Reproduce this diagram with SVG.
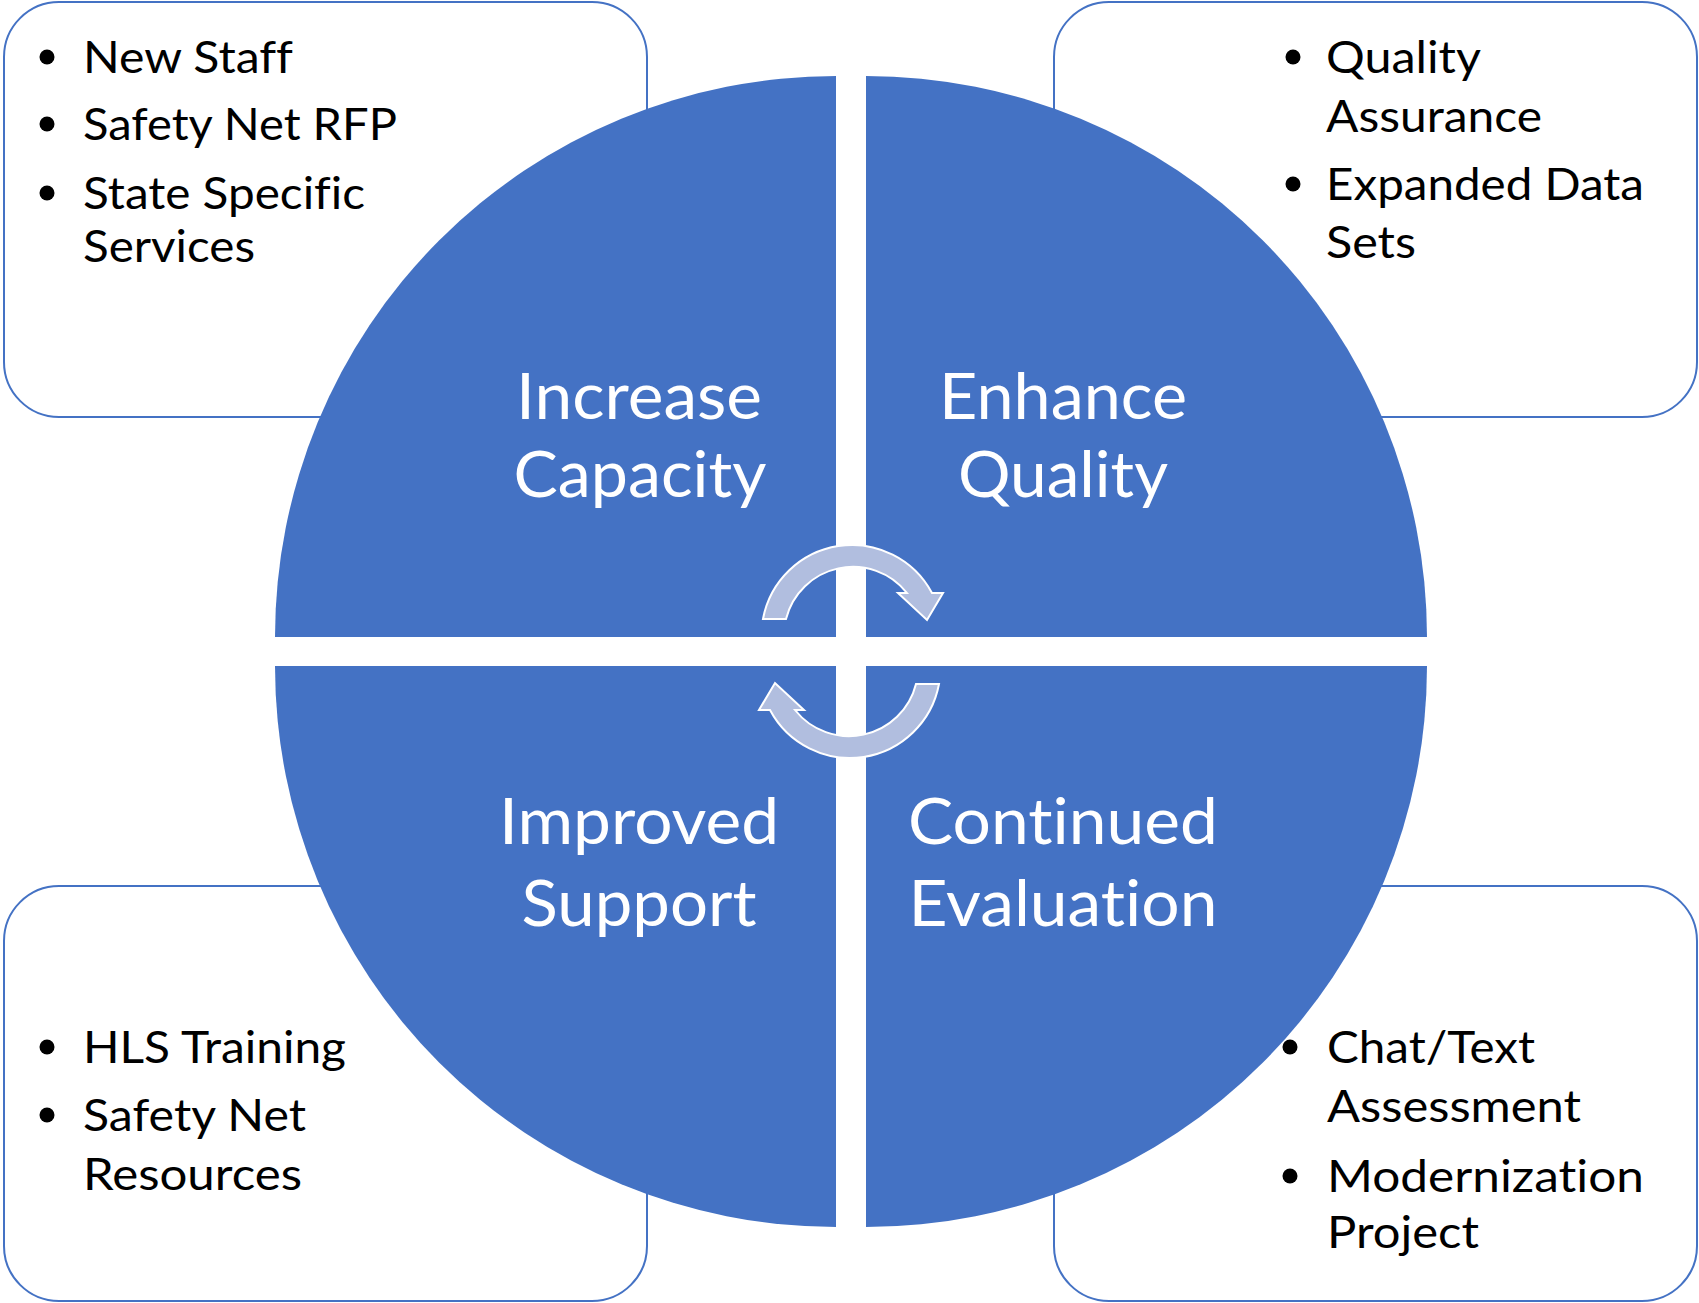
<svg xmlns="http://www.w3.org/2000/svg" xmlns:xlink="http://www.w3.org/1999/xlink" width="1699" height="1303" viewBox="0 0 1699 1303">
<style>
.box{fill:#FFFFFF;stroke:#4472C4;stroke-width:2}
.quad{fill:#4472C4}
.big{font-family:Lato,"Open Sans","Liberation Sans",sans-serif;font-size:64px;fill:#FFFFFF;text-anchor:middle;font-variant-ligatures:none;font-feature-settings:"liga" 0,"clig" 0,"dlig" 0}
.item{font-family:Lato,"Open Sans","Liberation Sans",sans-serif;font-size:44px;fill:#000000;font-variant-ligatures:none;font-feature-settings:"liga" 0,"clig" 0,"dlig" 0}
.bul{fill:#000000}
.arr{fill:#B1BEDF;stroke:#FFFFFF;stroke-width:2;stroke-linejoin:miter}
</style>
<defs>
<path id="cyc" d="M763,619 A90.6,90.6 0 0 1 932,593 L943,593 L927,620 L898,593 L907,593 A69,69 0 0 0 786,619 Z"/>
</defs>
<rect width="1699" height="1303" fill="#FFFFFF"/>
<g id="box-tl">
<rect class="box" x="4" y="2" width="643" height="415" rx="55" ry="55"/>
<circle class="bul" cx="47" cy="57" r="7.5"/>
<text class="item" x="83" y="73" textLength="210" lengthAdjust="spacingAndGlyphs">New Staff</text>
<circle class="bul" cx="47" cy="124" r="7.5"/>
<text class="item" x="83" y="140" textLength="314" lengthAdjust="spacingAndGlyphs">Safety Net RFP</text>
<circle class="bul" cx="47" cy="193" r="7.5"/>
<text class="item" x="83" y="209" textLength="282" lengthAdjust="spacingAndGlyphs">State Specific</text>
<text class="item" x="83" y="262" textLength="172" lengthAdjust="spacingAndGlyphs">Services</text>
</g>
<g id="box-tr">
<rect class="box" x="1054" y="2" width="643" height="415" rx="55" ry="55"/>
<circle class="bul" cx="1293" cy="57" r="7.5"/>
<text class="item" x="1326" y="73" textLength="155" lengthAdjust="spacingAndGlyphs">Quality</text>
<text class="item" x="1326" y="132" textLength="216" lengthAdjust="spacingAndGlyphs">Assurance</text>
<circle class="bul" cx="1293" cy="184" r="7.5"/>
<text class="item" x="1326" y="200" textLength="318" lengthAdjust="spacingAndGlyphs">Expanded Data</text>
<text class="item" x="1326" y="258" textLength="90" lengthAdjust="spacingAndGlyphs">Sets</text>
</g>
<g id="box-bl">
<rect class="box" x="4" y="886" width="643" height="415" rx="55" ry="55"/>
<circle class="bul" cx="47" cy="1047" r="7.5"/>
<text class="item" x="83" y="1063" textLength="263" lengthAdjust="spacingAndGlyphs">HLS Training</text>
<circle class="bul" cx="47" cy="1115" r="7.5"/>
<text class="item" x="83" y="1131" textLength="223" lengthAdjust="spacingAndGlyphs">Safety Net</text>
<text class="item" x="83" y="1190" textLength="219" lengthAdjust="spacingAndGlyphs">Resources</text>
</g>
<g id="box-br">
<rect class="box" x="1054" y="886" width="643" height="415" rx="55" ry="55"/>
<circle class="bul" cx="1290" cy="1047" r="7.5"/>
<text class="item" x="1327" y="1063" textLength="208" lengthAdjust="spacingAndGlyphs">Chat/Text</text>
<text class="item" x="1327" y="1122" textLength="254" lengthAdjust="spacingAndGlyphs">Assessment</text>
<circle class="bul" cx="1290" cy="1176" r="7.5"/>
<text class="item" x="1327" y="1192" textLength="317" lengthAdjust="spacingAndGlyphs">Modernization</text>
<text class="item" x="1327" y="1248" textLength="152" lengthAdjust="spacingAndGlyphs">Project</text>
</g>
<g id="quad-tl">
<path class="quad" d="M836,637 H275 A561,561 0 0 1 836,76 Z"/>
<text class="big" x="639" y="419" textLength="246" lengthAdjust="spacingAndGlyphs">Increase</text>
<text class="big" x="640" y="497" textLength="253" lengthAdjust="spacingAndGlyphs">Capacity</text>
</g>
<g id="quad-tr">
<path class="quad" d="M866,637 V76 A561,561 0 0 1 1427,637 Z"/>
<text class="big" x="1063" y="419" textLength="248" lengthAdjust="spacingAndGlyphs">Enhance</text>
<text class="big" x="1063" y="497" textLength="210" lengthAdjust="spacingAndGlyphs">Quality</text>
</g>
<g id="quad-bl">
<path class="quad" d="M836,666 V1227 A561,561 0 0 1 275,666 Z"/>
<text class="big" x="639" y="844" textLength="280" lengthAdjust="spacingAndGlyphs">Improved</text>
<text class="big" x="639" y="926" textLength="235" lengthAdjust="spacingAndGlyphs">Support</text>
</g>
<g id="quad-br">
<path class="quad" d="M866,666 H1427 A561,561 0 0 1 866,1227 Z"/>
<text class="big" x="1063" y="844" textLength="310" lengthAdjust="spacingAndGlyphs">Continued</text>
<text class="big" x="1063" y="926" textLength="309" lengthAdjust="spacingAndGlyphs">Evaluation</text>
</g>
<g id="connectors">
<use xlink:href="#cyc" class="arr"/>
<use xlink:href="#cyc" class="arr" transform="rotate(180 851 651.5)"/>
</g>
</svg>
